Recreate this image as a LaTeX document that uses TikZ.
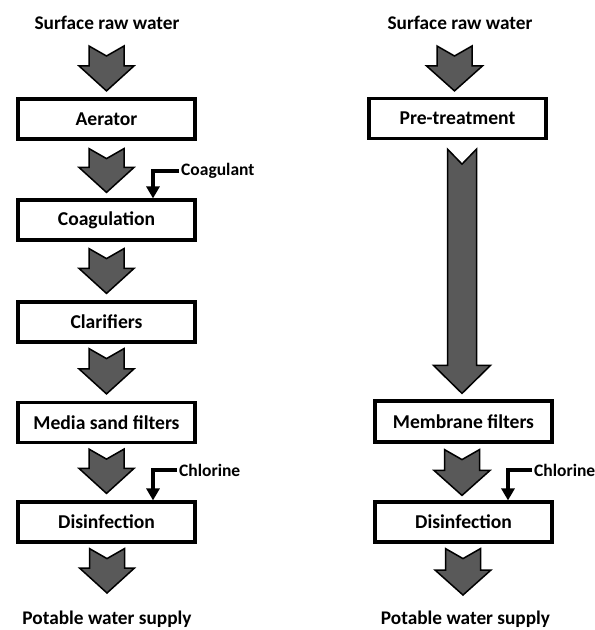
\documentclass[tikz,border=0pt]{standalone}
\usepackage{fontspec}
\setmainfont{Carlito}
\usetikzlibrary{arrows.meta,calc}
\tikzset{
 box/.style={draw,line width=3.2pt,minimum width=177pt,minimum height=40pt,inner sep=0pt,font=\bfseries\fontsize{19.6}{21}\selectfont},
 ttl/.style={font=\bfseries\fontsize{19.3}{21}\selectfont,inner sep=1pt},
 addlbl/.style={font=\bfseries\fontsize{17.5}{19}\selectfont,inner sep=2pt,anchor=west},
 blk/.style={draw=black,line width=1.5pt,fill=black!65,line join=miter},
 feed/.style={line width=3.4pt,-{Triangle[width=13pt,length=12pt]}},
}
% #1 top point, #2 tip point, #3 shaft half width, #4 head half width, #5 head height, #6 notch depth
\newcommand{\chev}[6]{%
 \draw[blk] let \p1=#1, \p2=#2 in
  (\x2-#3,\y1) -- (\x2,\y1-#6) -- (\x2+#3,\y1) -- (\x2+#3,\y2+#5) -- (\x2+#4,\y2+#5)
  -- (\x2,\y2) -- (\x2-#4,\y2+#5) -- (\x2-#3,\y2+#5) -- cycle;}
\begin{document}
\begin{tikzpicture}[x=1pt,y=-1pt]
\useasboundingbox (0,0) rectangle (595,630);
% left column
\node[ttl] (lsrc) at (107,23) {Surface raw water};
\node[box] (aer) at (106.5,119) {Aerator};
\node[box] (coag) at (106.5,220) {Coagulation};
\node[box] (clar) at (106.5,322) {Clarifiers};
\node[box] (msf) at (106.5,422.5) {Media sand filters};
\node[box] (ldis) at (106.5,522) {Disinfection};
\node[ttl] (lpot) at (107,619) {Potable water supply};
\node[addlbl] (coagl) at (179,171) {Coagulant};
\node[addlbl] (lcl) at (177,470) {Chlorine};
% right column
\node[ttl] (rsrc) at (460,23) {Surface raw water};
\node[box] (pre) at (457.5,118.5) {Pre-treatment};
\node[box,minimum height=41pt] (mem) at (463.5,421.5) {Membrane filters};
\node[box] (rdis) at (463.5,522) {Disinfection};
\node[ttl] (rpot) at (465.5,619) {Potable water supply};
\node[addlbl] (rcl) at (532,470) {Chlorine};
% block arrows left
\chev{($(lsrc)+(0,-23pt)$)}{($(aer.north)+(0,6.5pt)$)}{17.5pt}{27.5pt}{25pt}{10pt}
\chev{($(aer.south)+(0,-8pt)$)}{($(coag.north)+(0,6pt)$)}{17.5pt}{27.5pt}{25pt}{10pt}
\chev{($(coag.south)+(0,-7pt)$)}{($(clar.north)+(0,7pt)$)}{17.5pt}{27.5pt}{25pt}{10pt}
\chev{($(clar.south)+(0,-5pt)$)}{($(msf.north)+(0,7pt)$)}{17.5pt}{27.5pt}{25pt}{10pt}
\chev{($(msf.south)+(0,-5pt)$)}{($(ldis.north)+(0,7pt)$)}{17.5pt}{27.5pt}{25pt}{10pt}
\chev{($(ldis.south)+(0,-5pt)$)}{($(lpot)+(0,26pt)$)}{17.5pt}{27.5pt}{25pt}{10pt}
% block arrows right
\chev{($(rsrc)+(0,-23pt)$)}{($(pre.north)+(-3pt,6pt)$)}{17.5pt}{28pt}{25pt}{10pt}
\chev{($(pre.south)+(0,-9pt)$)}{($(mem.north)+(-1.5pt,6pt)$)}{14.5pt}{28.5pt}{28pt}{15pt}
\chev{($(mem.south)+(0,-6pt)$)}{($(rdis.north)+(-1.5pt,5pt)$)}{17.5pt}{28pt}{25pt}{10pt}
\chev{($(rdis.south)+(0,-5pt)$)}{($(rpot)+(-2.5pt,24pt)$)}{17.5pt}{28pt}{25pt}{10pt}
% feeds
\draw[feed] (coagl.west) -| ([xshift=46.5pt]coag.north);
\draw[feed] (lcl.west) -| ([xshift=46.5pt]ldis.north);
\draw[feed] (rcl.west) -| ([xshift=44.5pt]rdis.north);
\end{tikzpicture}
\end{document}
